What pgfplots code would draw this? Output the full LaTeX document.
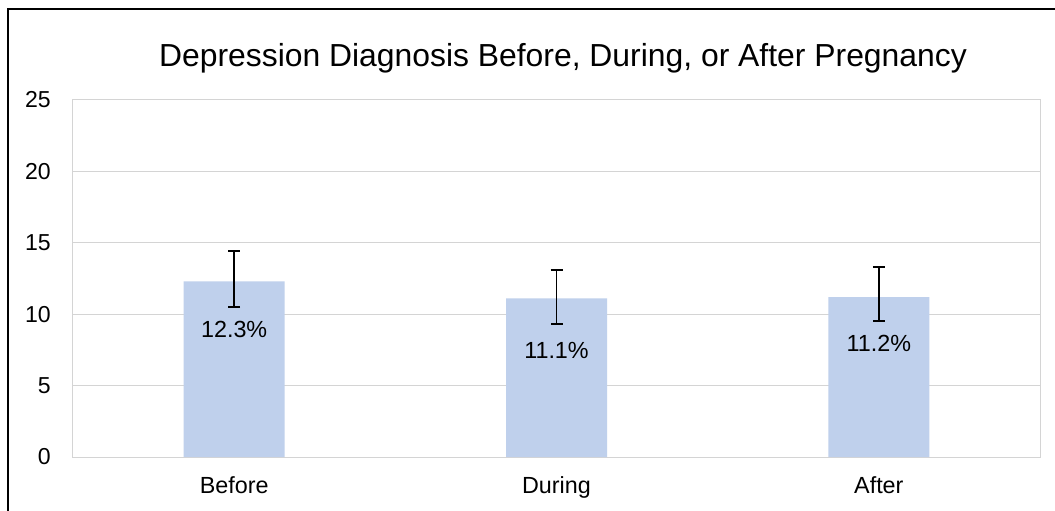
\documentclass[border=0pt]{standalone}
\usepackage{fontspec}
\setmainfont{Liberation Sans}
\usepackage{pgfplots}
\pgfplotsset{compat=1.18}
\definecolor{barblue}{RGB}{191,208,236}
\definecolor{gridgray}{RGB}{212,212,212}
\begin{document}
\begin{tikzpicture}
\begin{scope}[x=0.75pt,y=0.75pt]
\useasboundingbox (-73,-53) rectangle (982,457);
\fill[white] (-73,-53) rectangle (982,457);
\draw[black, line width=1.3pt] (-64.7,-60) -- (-64.7,447.7) -- (990,447.7);
\node[anchor=base, font=\fontsize{23.9}{27}\selectfont, inner sep=0pt] at (490,390) {Depression Diagnosis Before, During, or After Pregnancy};
\end{scope}
\begin{axis}[
  at={(0pt,0pt)}, anchor=south west,
  scale only axis, width=725.25pt, height=267.75pt,
  ymin=0, ymax=25, ytick={0,5,...,25},
  xmin=-0.5, xmax=2.5, xtick={0,1,2}, xticklabels={Before,During,After},
  /pgf/number format/assume math mode=true,
  major tick length=0pt,
  ymajorgrids, grid style={gridgray, line width=0.75pt},
  axis line style={gridgray, line width=0.75pt},
  tick label style={inner sep=0pt},
  yticklabel style={font=\fontsize{17.3}{20}\selectfont, xshift=-16.5pt},
  xticklabel style={font=\fontsize{17.5}{20}\selectfont, yshift=-14.5pt},
  ybar, bar width=75.75pt,
  clip=false,
]
\addplot[fill=barblue, draw=none,
  error bars/.cd, y dir=both, y explicit,
  error bar style={black, line width=1.3pt},
  error mark options={rotate=90, mark size=4.5pt, black, line width=1.3pt}]
  coordinates {
    (0,12.3) += (0,2.1) -= (0,1.8)
    (1,11.1) += (0,2.0) -= (0,1.8)
    (2,11.2) += (0,2.1) -= (0,1.7)
  };
\node[anchor=base, inner sep=0pt, font=\fontsize{17.5}{20}\selectfont] at (axis cs:0,8.35) {12.3\%};
\node[anchor=base, inner sep=0pt, font=\fontsize{17.5}{20}\selectfont] at (axis cs:1,6.91) {11.1\%};
\node[anchor=base, inner sep=0pt, font=\fontsize{17.5}{20}\selectfont] at (axis cs:2,7.37) {11.2\%};
\end{axis}
\end{tikzpicture}
\end{document}
